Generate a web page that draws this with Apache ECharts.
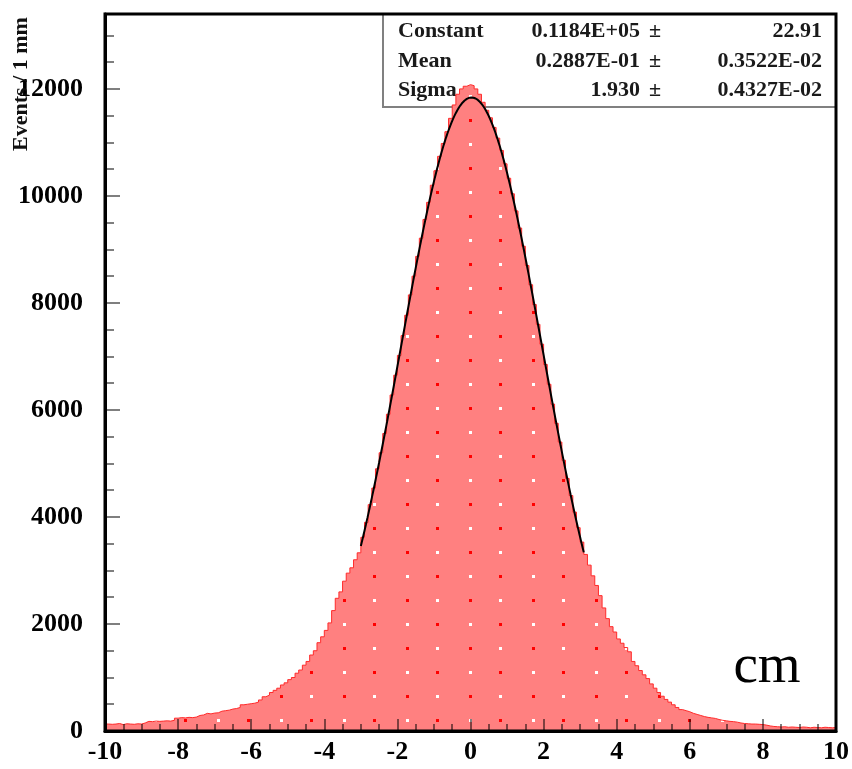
<!DOCTYPE html>
<html>
<head>
<meta charset="utf-8">
<script src="https://cdn.jsdelivr.net/npm/echarts@6/dist/echarts.min.js"></script>
<style>
  html, body { margin: 0; padding: 0; background: #fff; }
  #chart { width: 852px; height: 769px; }
</style>
</head>
<body>
<div id="chart"></div>
<script>
// Histogram binning: 200 bins of 1 mm from -10 cm to +10 cm
const binLow = -10;
const binWidth = 0.1;

// Entries per bin, left to right
const counts = [
  130, 125, 130, 140, 120, 135, 130, 125, 135, 130,
  150, 180, 175, 185, 180, 185, 190, 185, 200, 240,
  250, 245, 255, 250, 260, 290, 300, 330, 320, 335,
  340, 370, 380, 390, 410, 420, 440, 490, 500, 510,
  520, 540, 580, 640, 670, 720, 760, 800, 860, 900,
  960, 1000, 1080, 1140, 1230, 1300, 1420, 1500, 1650, 1760,
  1880, 2020, 2250, 2480, 2600, 2800, 2950, 3050, 3200, 3330,
  3620, 3900, 4230, 4540, 4900, 5200, 5560, 5920, 6280, 6650,
  7020, 7390, 7770, 8150, 8500, 8870, 9210, 9560, 9880, 10200,
  10470, 10740, 10980, 11200, 11450, 11700, 11900, 12000, 12050, 12080,
  12060, 12000, 11900, 11750, 11600, 11460, 11280, 11080, 10850, 10600,
  10330, 10040, 9720, 9400, 9060, 8700, 8340, 7970, 7600, 7230,
  6850, 6480, 6110, 5750, 5400, 5060, 4720, 4400, 4090, 3800,
  3530, 3300, 3100, 2900, 2720, 2530, 2300, 2100, 1950, 1850,
  1720, 1640, 1560, 1480, 1300, 1220, 1130, 1050, 980, 880,
  800, 720, 650, 590, 540, 490, 440, 400, 380, 360,
  330, 310, 290, 270, 255, 245, 235, 215, 200, 190,
  180, 175, 165, 150, 140, 135, 130, 130, 125, 120,
  110, 95, 85, 80, 75, 80, 70, 75, 70, 65,
  75, 70, 60, 70, 65, 60, 70, 65, 60, 65
];

// Tick labels
const xTicks = [-10, -8, -6, -4, -2, 0, 2, 4, 6, 8, 10];
const yTicks = [0, 2000, 4000, 6000, 8000, 10000, 12000];

// Gaussian fit result shown in the statistics box
const fitConstant = 11840;
const fitMean = 0.02887;
const fitSigma = 1.930;
const fitRange = [-3.0, 3.1];

const statNames = ['Constant', 'Mean', 'Sigma'];
const statValues = ['0.1184E+05', '0.2887E-01', '1.930'];
const statErrors = ['22.91', '0.3522E-02', '0.4327E-02'];

const axisTitle = 'Events / 1 mm';
const unitText = 'cm';

// ---- build series data ----
const histData = counts.map((v, i) => [+(binLow + i * binWidth).toFixed(2), v]);
histData.push([+(binLow + counts.length * binWidth).toFixed(2), counts[counts.length - 1]]);

const fitData = [];
for (let x = fitRange[0]; x <= fitRange[1] + 1e-9; x += 0.02) {
  const z = (x - fitMean) / fitSigma;
  fitData.push([x, fitConstant * Math.exp(-0.5 * z * z)]);
}

// Salmon fill with a sparse checkerboard of red / white dots
function makeFillPattern() {
  const c = document.createElement('canvas');
  c.width = 63; c.height = 48;
  const g = c.getContext('2d');
  g.fillStyle = '#ff8080';
  g.fillRect(0, 0, 63, 48);
  const dots = [
    [29, 24, '#ff0000'], [59, 24, '#ffffff'],
    [29, 0, '#ffffff'], [59, 0, '#ff0000']
  ];
  dots.forEach(([x, y, col]) => {
    g.fillStyle = col;
    g.fillRect(x - 1, y - 1, 3, 3);
    if (y === 0) g.fillRect(x - 1, 47, 3, 1);
  });
  return c;
}

const serif = 'Liberation Serif';
const tickStyle = { color: 'rgba(0,0,0,0.5)', width: 2 };

const chart = echarts.init(document.getElementById('chart'), null, { renderer: 'canvas' });

const statRowsY = [31, 61, 90];
const statGraphics = [];
statNames.forEach((name, i) => {
  const y = statRowsY[i];
  const font = 'bold 22px "' + serif + '"';
  statGraphics.push(
    { type: 'text', x: 398, y, z: 1, style: { text: name, font, fill: '#1a1a1a', align: 'left', verticalAlign: 'middle' } },
    { type: 'text', x: 640, y, z: 1, style: { text: statValues[i], font, fill: '#1a1a1a', align: 'right', verticalAlign: 'middle' } },
    { type: 'text', x: 655, y, z: 1, style: { text: '±', font, fill: '#1a1a1a', align: 'center', verticalAlign: 'middle' } },
    { type: 'text', x: 822, y, z: 1, style: { text: statErrors[i], font, fill: '#1a1a1a', align: 'right', verticalAlign: 'middle' } }
  );
});

chart.setOption({
  animation: false,
  backgroundColor: '#fff',
  grid: {
    left: 105, right: 16, top: 14, bottom: 38,
    show: true, backgroundColor: 'transparent',
    borderColor: '#000', borderWidth: 3, z: 10
  },
  xAxis: {
    type: 'value', min: -10, max: 10, interval: 2, z: 5, position: 'bottom',
    axisLine: { show: true, onZero: false, lineStyle: { color: '#000', width: 3 } },
    axisTick: { show: true, inside: true, length: 12, lineStyle: tickStyle },
    minorTick: { show: true, splitNumber: 4, length: 7, lineStyle: tickStyle },
    splitLine: { show: false },
    axisLabel: {
      margin: 8, color: '#000', fontFamily: serif, fontWeight: 'bold', fontSize: 26,
      formatter: v => (xTicks.indexOf(v) >= 0 ? String(v) : '')
    }
  },
  yAxis: [
    {
      type: 'value', min: 0, max: 13400, interval: 2000, z: 5, position: 'left',
      axisLine: { show: true, onZero: false, lineStyle: { color: '#000', width: 3 } },
      axisTick: { show: true, inside: true, length: 15, lineStyle: tickStyle },
      splitLine: { show: false },
      axisLabel: {
        margin: 22, color: '#000', fontFamily: serif, fontWeight: 'bold', fontSize: 26,
        padding: [6, 0, 0, 0], showMaxLabel: false,
        formatter: v => (yTicks.indexOf(v) >= 0 ? String(v) : '')
      }
    },
    {
      // minor ticks every 500 entries along the left edge
      type: 'value', min: 0, max: 13400, interval: 500, z: 5, position: 'left', offset: 0,
      axisLine: { show: false, onZero: false },
      axisTick: { show: true, inside: true, length: 9, lineStyle: tickStyle },
      splitLine: { show: false },
      axisLabel: { show: false }
    }
  ],
  graphic: [
    {
      type: 'rect', z: 1,
      shape: { x: 383, y: 14, width: 453, height: 93 },
      style: { fill: '#fff', stroke: '#808080', lineWidth: 2 }
    },
    ...statGraphics,
    {
      type: 'text', x: 21, y: 84, rotation: Math.PI / 2, z: 20,
      style: { text: axisTitle, font: 'bold 22px "' + serif + '"', fill: '#111', align: 'center', verticalAlign: 'middle' }
    },
    {
      type: 'text', x: 767, y: 668, z: 20,
      style: { text: unitText, font: '55px "' + serif + '"', fill: '#000', align: 'center', verticalAlign: 'middle' }
    }
  ],
  series: [
    {
      name: 'histogram', type: 'line', step: 'end', xAxisIndex: 0, yAxisIndex: 0,
      data: histData, showSymbol: false, z: 2,
      lineStyle: { color: '#ff2a2a', width: 1 },
      areaStyle: { color: { image: makeFillPattern(), repeat: 'repeat' }, opacity: 1, origin: 'start' }
    },
    {
      name: 'fit', type: 'line', xAxisIndex: 0, yAxisIndex: 0,
      data: fitData, showSymbol: false, z: 3,
      lineStyle: { color: '#000', width: 2 }
    }
  ]
});
</script>
</body>
</html>
